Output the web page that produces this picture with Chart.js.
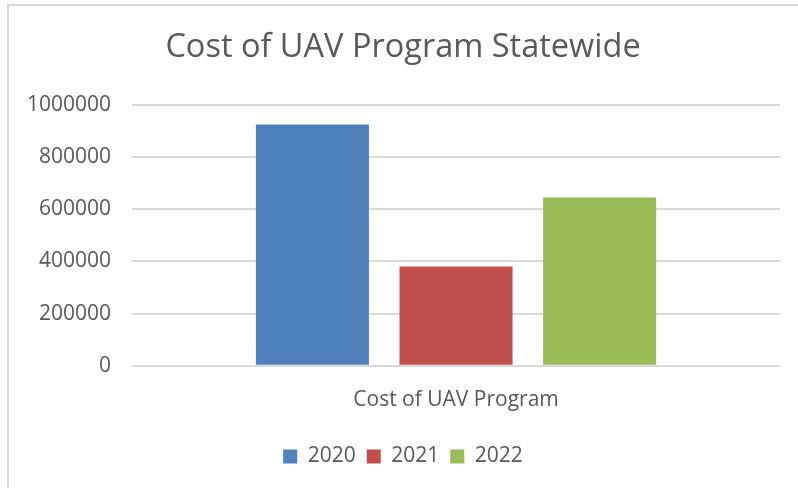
<!DOCTYPE html>
<html>
<head>
<meta charset="utf-8">
<script src="https://cdn.jsdelivr.net/npm/chart.js@4"></script>
<style>
    html, body { margin: 0; padding: 0; background: #fff; }
    #wrap {
        position: absolute; left: 7px; top: 4px;
        width: 791px; height: 484px;
        border-left: 2px solid #d9d9d9; border-top: 2px solid #d9d9d9;
    }
</style>
</head>
<body>
<div id="wrap"><canvas id="costChart"></canvas></div>
<script>
const categories = ["Cost of UAV Program"];
const years = ["2020", "2021", "2022"];
const costs = [925000, 381000, 645000];
const colors = ["#4F81BD", "#C0504D", "#9BBB59"];
const yTicks = [0, 200000, 400000, 600000, 800000, 1000000];

const FONT = "'Open Sans', 'Liberation Sans', sans-serif";
const TEXT = "#595959";

document.addEventListener("DOMContentLoaded", function () {
    const ctx = document.getElementById("costChart").getContext("2d");

    const datasets = years.map((year, i) => ({
        label: year,
        data: [costs[i]],
        backgroundColor: colors[i],
        categoryPercentage: 0.665,
        barPercentage: 0.787
    }));

    new Chart(ctx, {
        type: "bar",
        data: { labels: categories, datasets: datasets },
        options: {
            responsive: true,
            maintainAspectRatio: false,
            animation: false,
            layout: { padding: { left: -3, right: 0, top: 22, bottom: 13 } },
            plugins: {
                title: {
                    display: true,
                    text: "Cost of UAV Program Statewide",
                    color: TEXT,
                    font: { family: FONT, size: 32.5, weight: "normal" },
                    padding: { top: 0, bottom: 38 }
                },
                legend: {
                    position: "bottom",
                    labels: {
                        color: TEXT,
                        font: { family: FONT, size: 21, lineHeight: 0.9 },
                        boxWidth: 14,
                        boxHeight: 14,
                        padding: 11
                    }
                },
                tooltip: { enabled: false }
            },
            scales: {
                x: {
                    grid: { display: false, drawTicks: false },
                    border: { display: false },
                    ticks: { color: TEXT, font: { family: FONT, size: 21 }, padding: 22 }
                },
                y: {
                    min: 0,
                    max: 1000000,
                    afterBuildTicks: axis => { axis.ticks = yTicks.map(v => ({ value: v })); },
                    grid: { color: "#d9d9d9", lineWidth: 2, drawTicks: false },
                    border: { display: false },
                    ticks: {
                        color: TEXT,
                        font: { family: FONT, size: 21 },
                        padding: 21,
                        callback: v => String(v)
                    }
                },
                // empty right-hand axis, only keeps the plot clear of the right edge
                yRight: {
                    position: "right",
                    display: true,
                    grid: { display: false, drawTicks: false },
                    border: { display: false },
                    ticks: { display: false },
                    afterFit: axis => { axis.width = 20; }
                }
            }
        }
    });
});
</script>
</body>
</html>
